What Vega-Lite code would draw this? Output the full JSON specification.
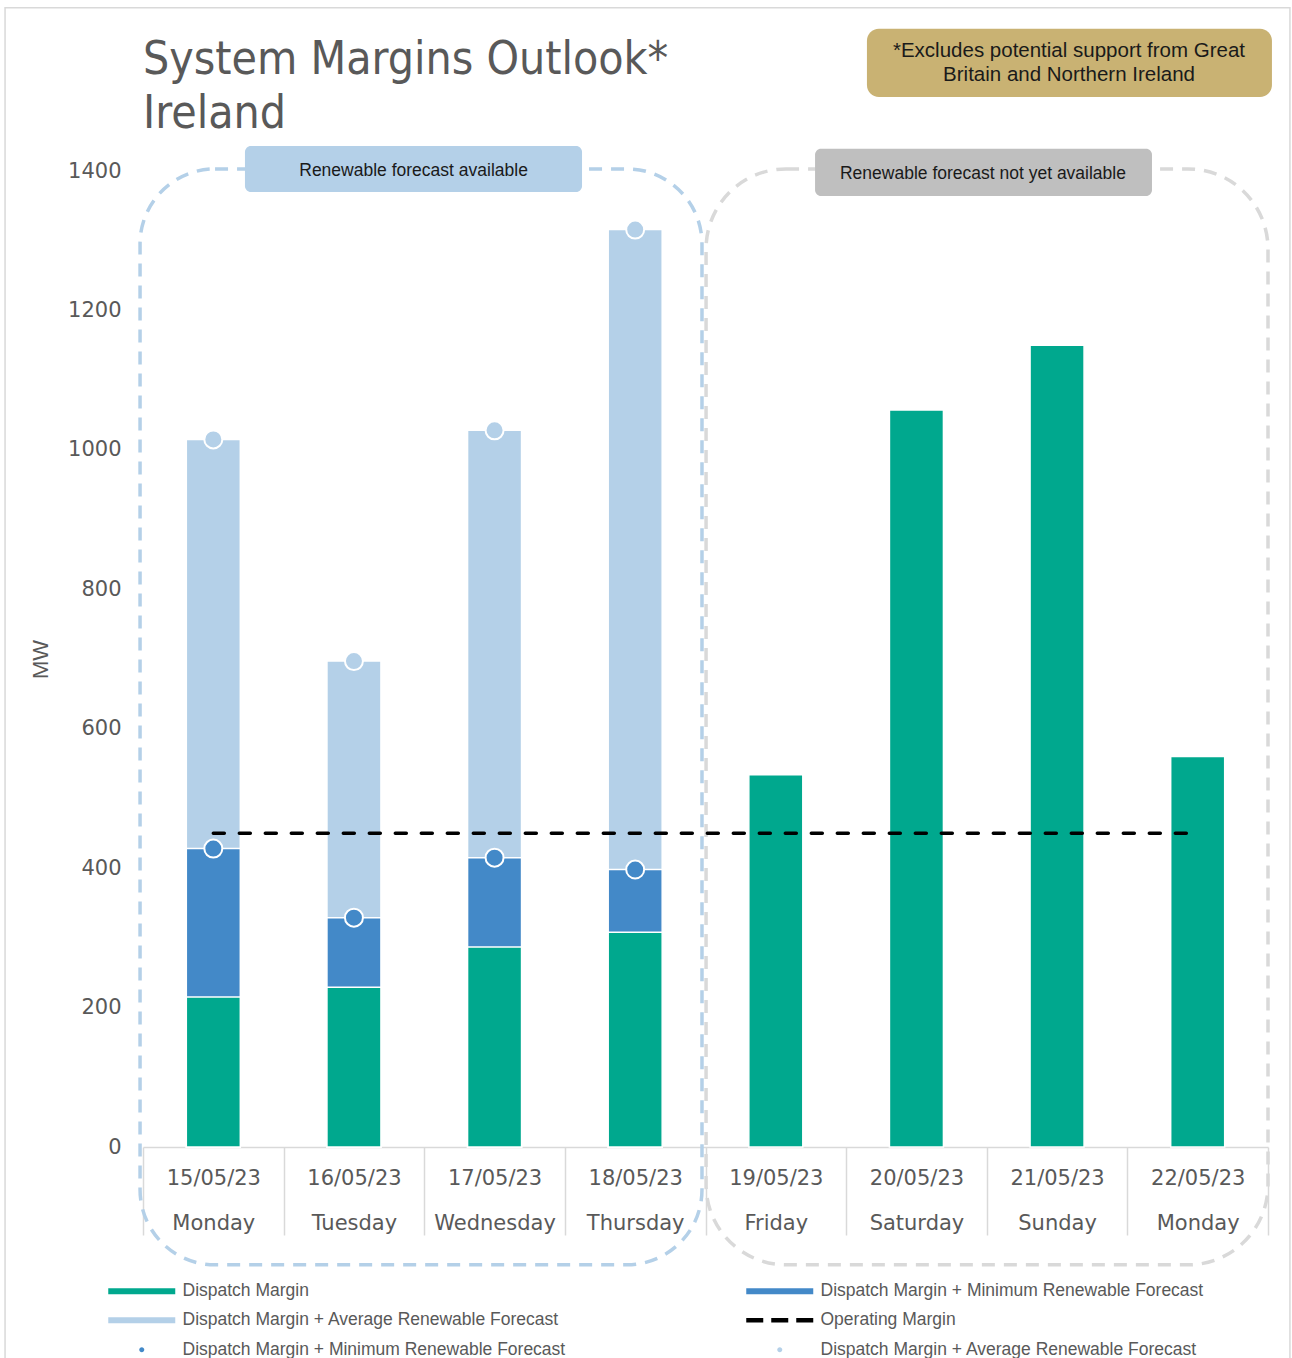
{
  "$schema": "https://vega.github.io/schema/vega-lite/v6.json",
  "autosize": "none",
  "padding": {"left": 143, "top": 171, "right": 24, "bottom": 211},
  "width": 1125,
  "height": 976,
  "background": "white",
  "title": {
    "text": ["System Margins Outlook*", "Ireland"],
    "anchor": "start",
    "frame": "group",
    "font": "DejaVu Sans Condensed, Liberation Sans Narrow, sans-serif",
    "fontSize": 46,
    "fontWeight": "normal",
    "color": "#595959",
    "lineHeight": 54,
    "baseline": "bottom",
    "offset": -177
  },
  "config": {
    "view": {"stroke": null},
    "font": "Liberation Sans",
    "axisY": {
      "orient": "left",
      "labelFont": "DejaVu Sans",
      "labelFontSize": 21,
      "labelColor": "#595959",
      "grid": false,
      "domain": false,
      "ticks": false,
      "tickSize": 0,
      "labelPadding": 22,
      "titleFont": "Liberation Sans",
      "titleFontSize": 22,
      "titleFontWeight": "normal",
      "titleColor": "#595959",
      "titlePadding": 15
    },
    "axisX": {
      "orient": "bottom",
      "labelFont": "DejaVu Sans",
      "labelFontSize": 21,
      "labelColor": "#595959",
      "labelLineHeight": 45,
      "labelAngle": 0,
      "labelBaseline": "top",
      "labelPadding": -68,
      "labelOverlap": false,
      "labelFlush": false,
      "grid": false,
      "domainColor": "#d9d9d9",
      "domainWidth": 1.5,
      "tickColor": "#d9d9d9",
      "tickWidth": 1.5,
      "tickSize": 88,
      "tickBand": "extent"
    }
  },
  "datasets": {
    "days": [
      {"day": "15/05/23|Monday", "dm": 215, "min": 428, "avg": 1015},
      {"day": "16/05/23|Tuesday", "dm": 229, "min": 329, "avg": 697},
      {"day": "17/05/23|Wednesday", "dm": 287, "min": 415, "avg": 1028},
      {"day": "18/05/23|Thursday", "dm": 308, "min": 398, "avg": 1316},
      {"day": "19/05/23|Friday", "dm": 534, "min": null, "avg": null},
      {"day": "20/05/23|Saturday", "dm": 1057, "min": null, "avg": null},
      {"day": "21/05/23|Sunday", "dm": 1150, "min": null, "avg": null},
      {"day": "22/05/23|Monday", "dm": 560, "min": null, "avg": null}
    ],
    "operating": [
      {"from": "15/05/23|Monday", "to": "22/05/23|Monday", "om": 450}
    ],
    "boxes": [
      {"kind": "frame", "x0": -0.981, "x1": 8.156, "y0": -330, "y1": 1634},
      {"kind": "avail", "x0": -0.021, "x1": 3.975, "y0": -169, "y1": 1403},
      {"kind": "notavail", "x0": 4.004, "x1": 8.0, "y0": -169, "y1": 1403},
      {"kind": "availLabel", "x0": 0.725, "x1": 3.122, "y0": 1370, "y1": 1436},
      {"kind": "notavailLabel", "x0": 4.779, "x1": 7.175, "y0": 1364, "y1": 1432},
      {"kind": "note", "x0": 5.148, "x1": 8.028, "y0": 1506, "y1": 1604}
    ],
    "notes": [
      {"kind": "box", "x": 1.924, "y": 1400, "text": "Renewable forecast available"},
      {"kind": "box", "x": 5.973, "y": 1395, "text": "Renewable forecast not yet available"},
      {"kind": "note", "x": 6.585, "y": 1572, "text": "*Excludes potential support from Great\nBritain and Northern Ireland"}
    ],
    "legend": [
      {"key": "1 Dispatch Margin"},
      {"key": "2 Dispatch Margin + Average Renewable Forecast"},
      {"key": "3 Dispatch Margin + Minimum Renewable Forecast"},
      {"key": "4 Dispatch Margin + Minimum Renewable Forecast"},
      {"key": "5 Operating Margin"},
      {"key": "6 Dispatch Margin + Average Renewable Forecast"}
    ]
  },
  "layer": [
    {
      "layer": [
        {
          "data": {"name": "boxes"},
          "transform": [{"filter": "datum.kind == 'frame'"}],
          "mark": {"type": "rect", "fill": null, "stroke": "#d9d9d9", "strokeWidth": 1.5},
          "encoding": {
            "x": {"field": "x0", "type": "quantitative", "scale": {"domain": [0, 8], "nice": false, "zero": false}, "axis": null},
            "x2": {"field": "x1"},
            "y": {"field": "y0", "type": "quantitative", "scale": {"domain": [0, 1400], "nice": false, "zero": false}, "axis": null},
            "y2": {"field": "y1"}
          }
        },
        {
          "data": {"name": "boxes"},
          "transform": [{"filter": "datum.kind == 'avail'"}],
          "mark": {"type": "rect", "fill": null, "stroke": "#b4d0e8", "strokeWidth": 3.5, "strokeDash": [13, 9], "cornerRadius": 75},
          "encoding": {
            "x": {"field": "x0", "type": "quantitative"},
            "x2": {"field": "x1"},
            "y": {"field": "y0", "type": "quantitative"},
            "y2": {"field": "y1"}
          }
        },
        {
          "data": {"name": "boxes"},
          "transform": [{"filter": "datum.kind == 'notavail'"}],
          "mark": {"type": "rect", "fill": null, "stroke": "#d9d9d9", "strokeWidth": 3.5, "strokeDash": [13, 9], "cornerRadius": 80},
          "encoding": {
            "x": {"field": "x0", "type": "quantitative"},
            "x2": {"field": "x1"},
            "y": {"field": "y0", "type": "quantitative"},
            "y2": {"field": "y1"}
          }
        },
        {
          "data": {"name": "boxes"},
          "transform": [{"filter": "datum.kind == 'availLabel'"}],
          "mark": {"type": "rect", "fill": "#b4d0e8", "cornerRadius": 6},
          "encoding": {
            "x": {"field": "x0", "type": "quantitative"},
            "x2": {"field": "x1"},
            "y": {"field": "y0", "type": "quantitative"},
            "y2": {"field": "y1"}
          }
        },
        {
          "data": {"name": "boxes"},
          "transform": [{"filter": "datum.kind == 'notavailLabel'"}],
          "mark": {"type": "rect", "fill": "#bfbfbf", "cornerRadius": 6},
          "encoding": {
            "x": {"field": "x0", "type": "quantitative"},
            "x2": {"field": "x1"},
            "y": {"field": "y0", "type": "quantitative"},
            "y2": {"field": "y1"}
          }
        },
        {
          "data": {"name": "boxes"},
          "transform": [{"filter": "datum.kind == 'note'"}],
          "mark": {"type": "rect", "fill": "#c9b273", "cornerRadius": 12},
          "encoding": {
            "x": {"field": "x0", "type": "quantitative"},
            "x2": {"field": "x1"},
            "y": {"field": "y0", "type": "quantitative"},
            "y2": {"field": "y1"}
          }
        },
        {
          "data": {"name": "notes"},
          "transform": [{"filter": "datum.kind == 'box'"}],
          "mark": {"type": "text", "font": "Liberation Sans", "fontSize": 17.5, "color": "#1a1a1a", "align": "center", "baseline": "middle"},
          "encoding": {
            "x": {"field": "x", "type": "quantitative"},
            "y": {"field": "y", "type": "quantitative"},
            "text": {"field": "text"}
          }
        },
        {
          "data": {"name": "notes"},
          "transform": [{"filter": "datum.kind == 'note'"}],
          "mark": {"type": "text", "font": "Liberation Sans", "fontSize": 20.5, "color": "#1a1a1a", "align": "center", "baseline": "middle", "lineBreak": "\n", "lineHeight": 24},
          "encoding": {
            "x": {"field": "x", "type": "quantitative"},
            "y": {"field": "y", "type": "quantitative"},
            "text": {"field": "text"}
          }
        }
      ]
    },
    {
      "layer": [
        {
          "data": {"name": "days"},
          "mark": {"type": "bar", "color": "#b4d0e8", "width": {"band": 0.384}, "stroke": "white", "strokeWidth": 1.5},
          "encoding": {
            "x": {"field": "day", "type": "nominal", "title": null, "scale": {"paddingInner": 0, "paddingOuter": 0}, "axis": {"orient": "bottom", "labelExpr": "split(datum.label, '|')"}},
            "y": {"field": "avg", "type": "quantitative", "title": "MW", "scale": {"domain": [0, 1400], "nice": false}, "axis": {"orient": "left", "format": "d", "values": [0, 200, 400, 600, 800, 1000, 1200, 1400]}}
          }
        },
        {
          "data": {"name": "days"},
          "mark": {"type": "bar", "color": "#4389c8", "width": {"band": 0.384}, "stroke": "white", "strokeWidth": 1.5},
          "encoding": {
            "x": {"field": "day", "type": "nominal", "title": null},
            "y": {"field": "min", "type": "quantitative", "title": "MW"}
          }
        },
        {
          "data": {"name": "days"},
          "mark": {"type": "bar", "color": "#00a88e", "width": {"band": 0.384}, "stroke": "white", "strokeWidth": 1.5},
          "encoding": {
            "x": {"field": "day", "type": "nominal", "title": null},
            "y": {"field": "dm", "type": "quantitative", "title": "MW"}
          }
        },
        {
          "data": {"name": "operating"},
          "mark": {"type": "rule", "color": "black", "strokeWidth": 3.5, "strokeDash": [11, 15], "strokeCap": "round"},
          "encoding": {
            "x": {"field": "from", "type": "nominal", "title": null},
            "x2": {"field": "to"},
            "y": {"field": "om", "type": "quantitative", "title": "MW"}
          }
        },
        {
          "data": {"name": "days"},
          "mark": {"type": "point", "shape": "circle", "filled": true, "opacity": 1, "size": 324, "fill": "#4389c8", "stroke": "white", "strokeWidth": 2},
          "encoding": {
            "x": {"field": "day", "type": "nominal", "title": null},
            "y": {"field": "min", "type": "quantitative", "title": "MW"}
          }
        },
        {
          "data": {"name": "days"},
          "mark": {"type": "point", "shape": "circle", "filled": true, "opacity": 1, "size": 324, "fill": "#b4d0e8", "stroke": "white", "strokeWidth": 2},
          "encoding": {
            "x": {"field": "day", "type": "nominal", "title": null},
            "y": {"field": "avg", "type": "quantitative", "title": "MW"}
          }
        },
        {
          "data": {"name": "legend"},
          "transform": [{"filter": "datum.key == null"}],
          "mark": {"type": "point", "filled": true, "opacity": 1, "strokeWidth": 0},
          "encoding": {
            "color": {
              "field": "key",
              "type": "nominal",
              "scale": {
                "domain": ["1 Dispatch Margin", "2 Dispatch Margin + Average Renewable Forecast", "3 Dispatch Margin + Minimum Renewable Forecast", "4 Dispatch Margin + Minimum Renewable Forecast", "5 Operating Margin", "6 Dispatch Margin + Average Renewable Forecast"],
                "range": ["#00a88e", "#b4d0e8", "#4389c8", "#4389c8", "#000000", "#b4d0e8"]
              },
              "legend": {
                "title": null,
                "orient": "none",
                "legendX": -10,
                "legendY": 1111,
                "columns": 2,
                "columnPadding": 180,
                "rowPadding": 10.5,
                "symbolSize": 100,
                "symbolStrokeWidth": 0,
                "symbolOpacity": 1,
                "labelOffset": 32,
                "labelFont": "Liberation Sans",
                "labelFontSize": 17.5,
                "labelColor": "#595959",
                "labelLimit": 800,
                "labelExpr": "substring(datum.label, 2)",
                "padding": 0
              }
            },
            "shape": {
              "field": "key",
              "type": "nominal",
              "scale": {
                "domain": ["1 Dispatch Margin", "2 Dispatch Margin + Average Renewable Forecast", "3 Dispatch Margin + Minimum Renewable Forecast", "4 Dispatch Margin + Minimum Renewable Forecast", "5 Operating Margin", "6 Dispatch Margin + Average Renewable Forecast"],
                "range": [
                  "M-6.7,-0.6H6.7V0.6H-6.7Z",
                  "M-6.7,-0.6H6.7V0.6H-6.7Z",
                  "M0.5,0A0.5,0.5 0 1,1 -0.5,0A0.5,0.5 0 1,1 0.5,0Z",
                  "M-6.7,-0.6H6.7V0.6H-6.7Z",
                  "M-6.7,-0.45H-3.3V0.45H-6.7Z M-1.7,-0.45H1.7V0.45H-1.7Z M3.3,-0.45H6.7V0.45H3.3Z",
                  "M0.5,0A0.5,0.5 0 1,1 -0.5,0A0.5,0.5 0 1,1 0.5,0Z"
                ]
              },
              "legend": {
                "title": null,
                "orient": "none",
                "legendX": -10,
                "legendY": 1111,
                "columns": 2,
                "columnPadding": 180,
                "rowPadding": 10.5,
                "symbolSize": 100,
                "symbolStrokeWidth": 0,
                "symbolOpacity": 1,
                "labelOffset": 32,
                "labelFont": "Liberation Sans",
                "labelFontSize": 17.5,
                "labelColor": "#595959",
                "labelLimit": 800,
                "labelExpr": "substring(datum.label, 2)",
                "padding": 0
              }
            }
          }
        }
      ]
    }
  ],
  "resolve": {"scale": {"x": "independent", "y": "independent"}}
}
